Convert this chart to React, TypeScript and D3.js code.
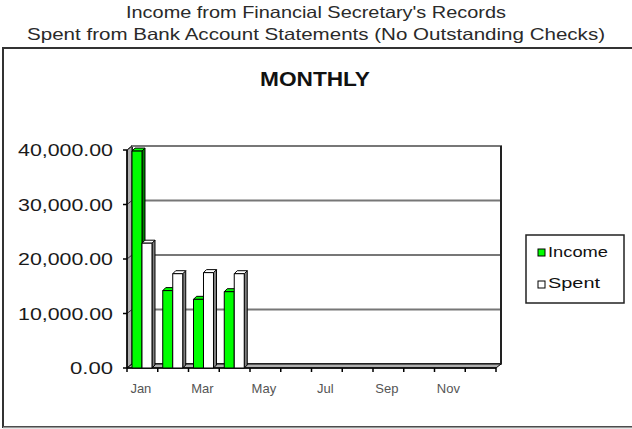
import React from 'react';
import * as d3 from 'd3';

const months = ['Jan','Feb','Mar','Apr','May','Jun','Jul','Aug','Sep','Oct','Nov','Dec'];
const monthLabels = ['Jan','','Mar','','May','','Jul','','Sep','','Nov',''];
const income: (number | null)[] = [39800, 14200, 12600, 14000, null, null, null, null, null, null, null, null];
const spent: (number | null)[] = [22900, 17300, 17500, 17300, null, null, null, null, null, null, null, null];
const yTicks = [0, 10000, 20000, 30000, 40000];
const titleLines = ["Income from Financial Secretary's Records", 'Spent from Bank Account Statements (No Outstanding Checks)'];
const seriesNames = ['Income', 'Spent'];

const W = 632, H = 429;
const X0 = 127, X1 = 496, Y0 = 368, YT = 150;
const DX = 5, DY = 4; // wall depth
const BDX = 3, BDY = 3; // bar depth

export default function App() {
  const x = d3.scaleBand<string>().domain(months).range([X0, X1]).paddingInner(0).paddingOuter(0);
  const y = d3.scaleLinear().domain([0, 40000]).range([Y0, YT]);
  const fmt = d3.format(',.2f');
  const bw = x.bandwidth();
  const barW = bw * 0.325;
  const font = 'Liberation Sans, Arial, sans-serif';

  const bar = (xs: number, v: number, front: string, side: string, key: string) => {
    const yt = y(v);
    const w = barW;
    return (
      <g key={key} stroke="#000" strokeWidth={1} strokeLinejoin="round">
        <polygon points={`${xs + w},${yt} ${xs + w + BDX},${yt - BDY} ${xs + w + BDX},${Y0 - BDY} ${xs + w},${Y0}`} fill={side} />
        <polygon points={`${xs},${yt} ${xs + BDX},${yt - BDY} ${xs + w + BDX},${yt - BDY} ${xs + w},${yt}`} fill={front} />
        <rect x={xs} y={yt} width={w} height={Y0 - yt} fill={front} />
      </g>
    );
  };

  const ticksX = d3.range(months.length + 1).map(i => X0 + i * bw);

  return (
    <svg width={W} height={H} style={{ position: 'absolute', left: 0, top: 0, background: '#fff' }} fontFamily={font}>
      {/* titles */}
      <text x={316} y={18} textAnchor="middle" fontSize={16.5} fill="#2a2a2a" textLength={380} lengthAdjust="spacingAndGlyphs">{titleLines[0]}</text>
      <text x={316} y={40} textAnchor="middle" fontSize={16.5} fill="#2a2a2a" textLength={578} lengthAdjust="spacingAndGlyphs">{titleLines[1]}</text>
      {/* outer frame */}
      <rect x={3} y={48} width={660} height={379} fill="none" stroke="#333" strokeWidth={2} />
      <line x1={3} x2={632} y1={427.5} y2={427.5} stroke="#999" strokeWidth={1.5} />
      <text x={315} y={86} textAnchor="middle" fontSize={20} fontWeight="bold" fill="#111" textLength={110} lengthAdjust="spacingAndGlyphs">MONTHLY</text>

      {/* back wall */}
      <rect x={X0 + DX} y={YT - DY} width={X1 - X0} height={Y0 - YT} fill="#fff" stroke="#000" strokeWidth={1.5} />
      {/* left wall */}
      <polygon points={`${X0},${Y0} ${X0},${YT} ${X0 + DX},${YT - DY} ${X0 + DX},${Y0 - DY}`} fill="#b0b0b0" stroke="#000" strokeWidth={1} />
      {/* floor */}
      <polygon points={`${X0},${Y0} ${X1},${Y0} ${X1 + DX},${Y0 - DY} ${X0 + DX},${Y0 - DY}`} fill="#b0b0b0" stroke="#000" strokeWidth={1} />
      {/* gridlines */}
      {yTicks.filter(t => t > 0).map(t => (
        <g key={t}>
          <line x1={X0 + DX} x2={X1 + DX} y1={y(t) - DY} y2={y(t) - DY} stroke="#777" strokeWidth={2} />
          <line x1={X0} x2={X0 + DX} y1={y(t)} y2={y(t) - DY} stroke="#333" strokeWidth={1} />
        </g>
      ))}
      <line x1={X1 + DX} x2={X1 + DX} y1={YT - DY} y2={Y0 - DY} stroke="#222" strokeWidth={2} />
      {/* y axis */}
      <line x1={X0} x2={X0} y1={Y0} y2={YT} stroke="#000" strokeWidth={1.5} />
      {yTicks.map(t => (
        <g key={t}>
          <line x1={X0 - 4} x2={X0} y1={y(t)} y2={y(t)} stroke="#000" strokeWidth={1.5} />
          <text x={113} y={y(t) + 6} textAnchor="end" fontSize={16} fill="#1a1a1a" textLength={t === 0 ? 43 : 95} lengthAdjust="spacingAndGlyphs">{fmt(t)}</text>
        </g>
      ))}
      {/* x axis */}
      <line x1={X0} x2={X1} y1={Y0} y2={Y0} stroke="#000" strokeWidth={1.5} />
      {ticksX.map((tx, i) => (
        <line key={i} x1={tx} x2={tx} y1={Y0} y2={Y0 + 4} stroke="#000" strokeWidth={1.5} />
      ))}
      {months.map((m, i) => monthLabels[i] ? (
        <text key={m} x={(x(m) as number) + bw / 2 - 1.5} y={393} textAnchor="middle" fontSize={13} fill="#555">{monthLabels[i]}</text>
      ) : null)}

      {/* bars */}
      {months.map((m, i) => {
        const bx = x(m) as number;
        return (
          <g key={m}>
            {income[i] != null && bar(bx + 5, income[i] as number, '#00ff00', '#008000', 'i' + m)}
            {spent[i] != null && bar(bx + 5 + barW, spent[i] as number, '#ffffff', '#808080', 's' + m)}
          </g>
        );
      })}

      {/* legend */}
      <rect x={526} y={235} width={98} height={68} fill="#fff" stroke="#222" strokeWidth={1.5} />
      <rect x={538} y={249} width={7} height={7} fill="#00ff00" stroke="#000" strokeWidth={1} />
      <text x={548} y={257} fontSize={15} fill="#111" textLength={60} lengthAdjust="spacingAndGlyphs">{seriesNames[0]}</text>
      <rect x={538} y={281} width={7} height={7} fill="#fff" stroke="#000" strokeWidth={1} />
      <text x={548} y={288} fontSize={15} fill="#111" textLength={52} lengthAdjust="spacingAndGlyphs">{seriesNames[1]}</text>
    </svg>
  );
}
